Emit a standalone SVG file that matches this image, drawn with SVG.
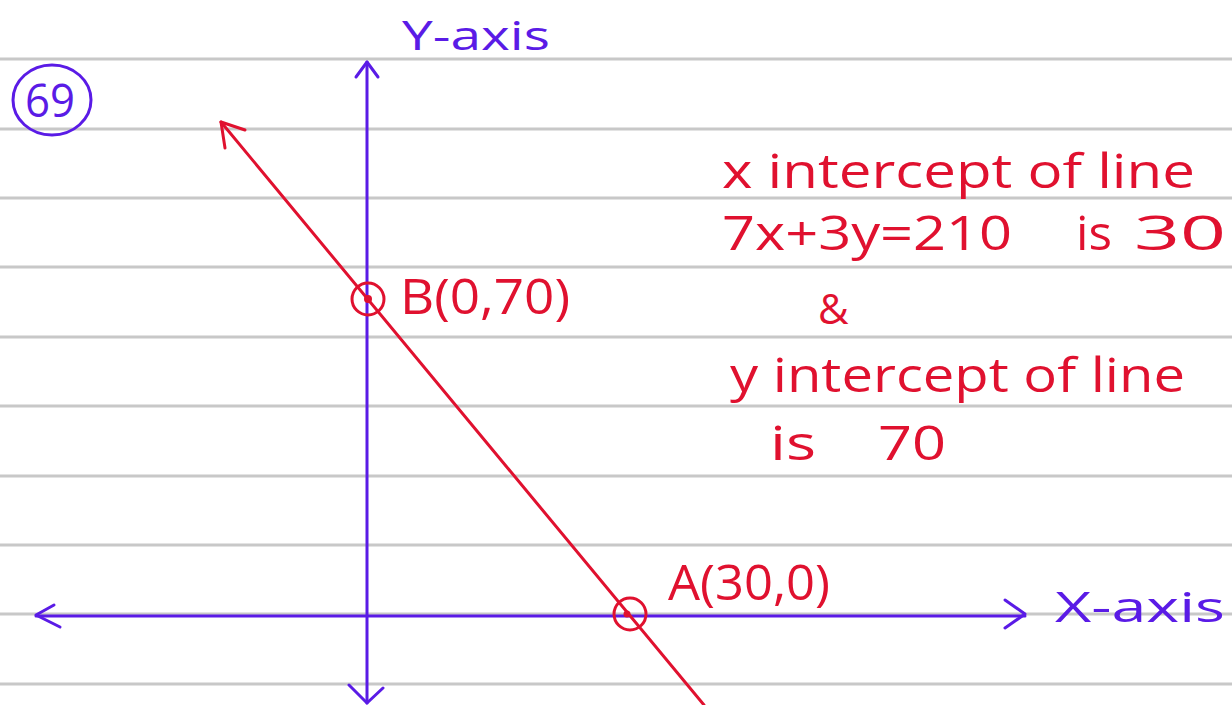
<svg xmlns="http://www.w3.org/2000/svg" width="1232" height="705" viewBox="0 0 1232 705">
<style>
.rule{stroke:#c8c8c8;stroke-width:3}
.blue{stroke:#5a1be6;fill:none;stroke-width:3;stroke-linecap:round;stroke-linejoin:round}
.red{stroke:#e0112f;fill:none;stroke-width:3;stroke-linecap:round;stroke-linejoin:round}
.tb{fill:#5a1be6;font-family:"Open Sans","Liberation Sans",sans-serif;font-weight:400}
.tr{fill:#e0112f;font-family:"Open Sans","Liberation Sans",sans-serif;font-weight:400}
</style>
<rect width="1232" height="705" fill="#ffffff"/>
<g id="paper">
<line class="rule" x1="0" y1="59" x2="1232" y2="59"/>
<line class="rule" x1="0" y1="129" x2="1232" y2="129"/>
<line class="rule" x1="0" y1="198" x2="1232" y2="198"/>
<line class="rule" x1="0" y1="267" x2="1232" y2="267"/>
<line class="rule" x1="0" y1="337" x2="1232" y2="337"/>
<line class="rule" x1="0" y1="406" x2="1232" y2="406"/>
<line class="rule" x1="0" y1="476" x2="1232" y2="476"/>
<line class="rule" x1="0" y1="545" x2="1232" y2="545"/>
<line class="rule" x1="0" y1="614" x2="1232" y2="614"/>
<line class="rule" x1="0" y1="684" x2="1232" y2="684"/>
</g>
<g id="connectors">
<g id="y-axis">
<line class="blue" x1="367" y1="62" x2="367" y2="703"/>
<polyline class="blue" points="356,77 367,62 378,77"/>
<polyline class="blue" points="349,685 367,703 383,688"/>
</g>
<g id="x-axis">
<line class="blue" x1="36" y1="616" x2="1025" y2="616"/>
<polyline class="blue" points="54,605 36,615 60,627"/>
<polyline class="blue" points="1005,600 1025,614 1005,628"/>
</g>
<g id="line-7x3y">
<line class="red" x1="221" y1="122" x2="704" y2="705"/>
<polyline class="red" points="225,148 221,122 245,130"/>
</g>
</g>
<g id="label-69">
<ellipse class="blue" cx="52" cy="100" rx="39" ry="35"/>
<text class="tb" x="25" y="117" font-size="46" textLength="50" lengthAdjust="spacingAndGlyphs">69</text>
</g>
<g id="label-y-axis">
<text class="tb" x="402" y="50" font-size="40" textLength="148" lengthAdjust="spacingAndGlyphs">Y-axis</text>
</g>
<g id="label-x-axis">
<text class="tb" x="1055" y="622" font-size="42" textLength="170" lengthAdjust="spacingAndGlyphs">X-axis</text>
</g>
<g id="point-B">
<circle class="red" cx="368" cy="299" r="16"/>
<circle cx="368" cy="299" r="4" fill="#e0112f"/>
<text class="tr" x="400" y="314" font-size="50" textLength="170" lengthAdjust="spacingAndGlyphs">B(0,70)</text>
</g>
<g id="point-A">
<circle class="red" cx="630" cy="614" r="16"/>
<circle cx="627" cy="614" r="3.5" fill="#e0112f"/>
<text class="tr" x="668" y="600" font-size="50" textLength="162" lengthAdjust="spacingAndGlyphs">A(30,0)</text>
</g>
<g id="notes">
<text class="tr" x="722" y="188" font-size="48" textLength="473" lengthAdjust="spacingAndGlyphs">x intercept of line</text>
<text class="tr" x="722" y="250" font-size="48" textLength="290" lengthAdjust="spacingAndGlyphs">7x+3y=210</text>
<text class="tr" x="1076" y="250" font-size="48" textLength="36" lengthAdjust="spacingAndGlyphs">is</text>
<text class="tr" x="1134" y="250" font-size="48" textLength="92" lengthAdjust="spacingAndGlyphs">30</text>
<text class="tr" x="818" y="324" font-size="42">&amp;</text>
<text class="tr" x="730" y="392" font-size="48" textLength="455" lengthAdjust="spacingAndGlyphs">y intercept of line</text>
<text class="tr" x="770" y="460" font-size="48" textLength="46" lengthAdjust="spacingAndGlyphs">is</text>
<text class="tr" x="878" y="460" font-size="48" textLength="68" lengthAdjust="spacingAndGlyphs">70</text>
</g>
</svg>
